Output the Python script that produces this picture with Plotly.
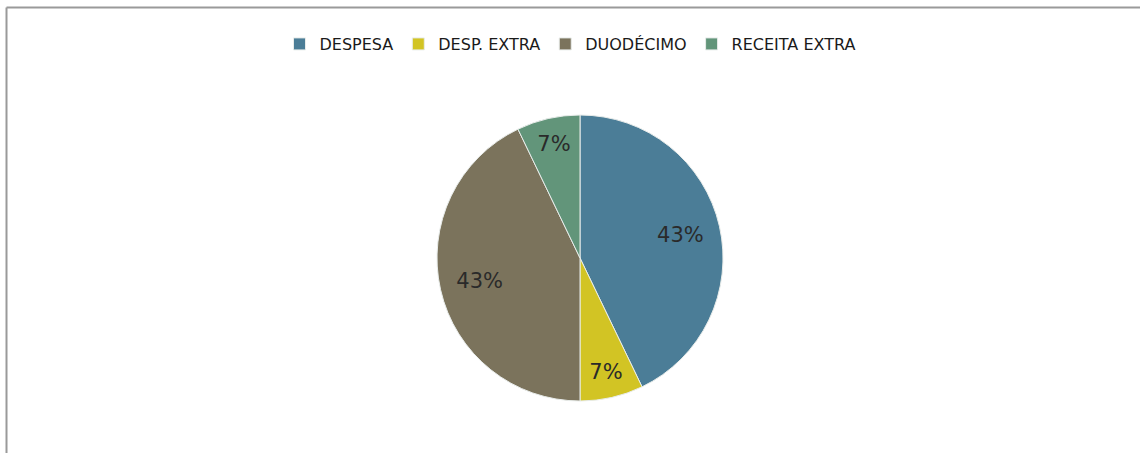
import plotly.graph_objects as go

categories = ["DESPESA", "DESP. EXTRA", "DUODÉCIMO", "RECEITA EXTRA"]
values = [6, 1, 6, 1]
colors = ["#4b7d97", "#d2c424", "#7b735c", "#62957a"]

W, H = 1140, 453
cx, cy, r = 580, 258, 143
dom = dict(x=[(cx - r) / W, (cx + r) / W], y=[1 - (cy + r) / H, 1 - (cy - r) / H])

common = dict(
    labels=categories,
    values=values,
    sort=False,
    direction="clockwise",
    rotation=0,
    domain=dom,
)

# full pie with colours, separators and legend
base = go.Pie(
    **common,
    marker=dict(colors=colors, line=dict(color="#e8ecea", width=1)),
    textinfo="none",
    hoverinfo="label+percent",
)
# transparent ring on top only carries the labels further out from the centre
ring = go.Pie(
    **common,
    hole=0.44,
    marker=dict(colors=["rgba(0,0,0,0)"] * len(categories), line=dict(width=0)),
    texttemplate="%{percent:.0%}",
    textposition="inside",
    insidetextorientation="horizontal",
    textfont=dict(family="DejaVu Sans, sans-serif", size=21, color="#2a2a2a"),
    showlegend=False,
    hoverinfo="skip",
)

fig = go.Figure([base, ring])

fig.update_layout(
    width=W, height=H,
    margin=dict(l=0, r=0, t=0, b=0),
    paper_bgcolor="white",
    plot_bgcolor="white",
    uniformtext=dict(minsize=21, mode="show"),
    legend=dict(
        orientation="h",
        x=0.5, xanchor="center",
        y=1 - 44 / H, yanchor="middle",
        font=dict(family="DejaVu Sans, sans-serif", size=16, color="#1a1a1a"),
        itemwidth=30,
        tracegroupgap=0,
        bgcolor="rgba(0,0,0,0)",
    ),
    shapes=[
        dict(type="line", xref="paper", yref="paper", x0=6.5 / W, x1=1, y0=1 - 7.5 / H, y1=1 - 7.5 / H,
             line=dict(color="#9a9a9a", width=2)),
        dict(type="line", xref="paper", yref="paper", x0=6.5 / W, x1=6.5 / W, y0=0, y1=1 - 7.5 / H,
             line=dict(color="#9a9a9a", width=2)),
    ],
)

fig.write_html(
    "out.html",
    config={"displayModeBar": False},
    post_script="document.body.style.margin='0';document.body.style.overflow='hidden';",
)
